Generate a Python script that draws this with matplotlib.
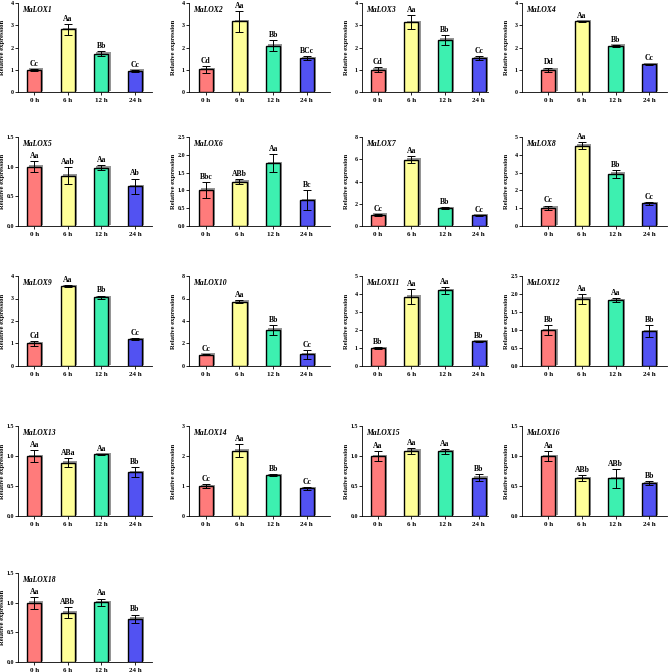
import matplotlib
matplotlib.use("Agg")
import matplotlib.pyplot as plt
import matplotlib.patheffects as pe

plt.rcParams['font.family'] = ['Liberation Serif', 'DejaVu Serif']
plt.rcParams['font.weight'] = 'bold'

times = ["0 h", "6 h", "12 h", "24 h"]
colors = ["#FF7B7B", "#FFFF99", "#3DF0B0", "#5252F2"]

genes = ["MaLOX1", "MaLOX2", "MaLOX3", "MaLOX4",
         "MaLOX5", "MaLOX6", "MaLOX7", "MaLOX8",
         "MaLOX9", "MaLOX10", "MaLOX11", "MaLOX12",
         "MaLOX13", "MaLOX14", "MaLOX15", "MaLOX16",
         "MaLOX18"]

means = [
    [1.00, 2.82, 1.73, 0.95],
    [1.02, 3.18, 2.08, 1.52],
    [1.00, 3.15, 2.35, 1.52],
    [1.00, 3.17, 2.08, 1.25],
    [1.00, 0.85, 0.98, 0.67],
    [1.02, 1.24, 1.76, 0.73],
    [1.00, 5.97, 1.62, 0.97],
    [1.02, 4.52, 2.93, 1.27],
    [1.00, 3.55, 3.05, 1.20],
    [1.00, 5.72, 3.22, 1.05],
    [1.00, 3.85, 4.20, 1.38],
    [1.00, 1.87, 1.83, 0.97],
    [1.00, 0.89, 1.03, 0.73],
    [1.00, 2.18, 1.37, 0.92],
    [1.00, 1.09, 1.08, 0.64],
    [1.00, 0.63, 0.63, 0.55],
    [1.00, 0.83, 1.01, 0.73],
]

errors = [
    [0.05, 0.25, 0.12, 0.05],
    [0.15, 0.47, 0.25, 0.10],
    [0.12, 0.30, 0.22, 0.10],
    [0.10, 0.04, 0.05, 0.03],
    [0.09, 0.14, 0.04, 0.13],
    [0.22, 0.07, 0.25, 0.27],
    [0.10, 0.30, 0.08, 0.05],
    [0.13, 0.18, 0.22, 0.10],
    [0.10, 0.05, 0.08, 0.04],
    [0.05, 0.15, 0.45, 0.40],
    [0.05, 0.42, 0.18, 0.03],
    [0.13, 0.14, 0.06, 0.17],
    [0.10, 0.07, 0.005, 0.08],
    [0.07, 0.22, 0.03, 0.06],
    [0.08, 0.05, 0.04, 0.06],
    [0.09, 0.05, 0.16, 0.04],
    [0.10, 0.09, 0.06, 0.07],
]

letters = [
    ["Cc", "Aa", "Bb", "Cc"],
    ["Cd", "Aa", "Bb", "BCc"],
    ["Cd", "Aa", "Bb", "Cc"],
    ["Dd", "Aa", "Bb", "Cc"],
    ["Aa", "Aab", "Aa", "Ab"],
    ["Bbc", "ABb", "Aa", "Bc"],
    ["Cc", "Aa", "Bb", "Cc"],
    ["Cc", "Aa", "Bb", "Cc"],
    ["Cd", "Aa", "Bb", "Cc"],
    ["Cc", "Aa", "Bb", "Cc"],
    ["Bb", "Aa", "Aa", "Bb"],
    ["Bb", "Aa", "Aa", "Bb"],
    ["Aa", "ABa", "Aa", "Bb"],
    ["Cc", "Aa", "Bb", "Cc"],
    ["Aa", "Aa", "Aa", "Bb"],
    ["Aa", "ABb", "ABb", "Bb"],
    ["Aa", "ABb", "Aa", "Bb"],
]

ymax = [4, 4, 4, 4, 1.5, 2.5, 8, 5, 4, 8, 5, 2.5, 1.5, 3, 1.5, 1.5, 1.5]
ystep = [1, 1, 1, 1, 0.5, 0.5, 2, 1, 1, 2, 1, 0.5, 0.5, 1, 0.5, 0.5, 0.5]

# layout in pixels (figure 669 x 672)
W, H = 669, 672
rows = [(3, 92), (137, 226), (276, 366), (426, 516), (573, 662)]
cols = [(18, 152, -0.48, 3.51), (189, 330, -0.50, 3.69),
        (362, 488, -0.47, 3.28), (522, 667, -0.78, 3.53)]

fig = plt.figure(figsize=(W / 100, H / 100), dpi=100)

shadow = [pe.SimplePatchShadow(offset=(1.6, 1.0), shadow_rgbFace="#8a8a8a", alpha=0.9), pe.Normal()]

for i, g in enumerate(genes):
    r, c = divmod(i, 4)
    top, bot = rows[r]
    left, right, x0, x1 = cols[c]
    ax = fig.add_axes([left / W, 1 - bot / H, (right - left) / W, (bot - top) / H])
    xs = range(4)
    bars = ax.bar(xs, means[i], width=0.42, color=colors, edgecolor="black", linewidth=1.0, zorder=2)
    for b in bars:
        b.set_path_effects(shadow)
    ax.errorbar(xs, means[i], yerr=errors[i], fmt="none", ecolor="black",
                elinewidth=0.7, capsize=3, capthick=0.7, zorder=3)
    for x, m, e, t in zip(xs, means[i], errors[i], letters[i]):
        ax.text(x, m + e + ymax[i] * 0.012, t, ha="center", va="bottom", fontsize=5.5, fontweight="bold")
    ax.set_xlim(x0, x1)
    ax.set_ylim(0, ymax[i])
    n = int(round(ymax[i] / ystep[i]))
    ticks = [k * ystep[i] for k in range(n + 1)]
    ax.set_yticks(ticks)
    if ystep[i] < 1:
        ax.set_yticklabels(["%.1f" % t for t in ticks])
    else:
        ax.set_yticklabels(["%d" % t for t in ticks])
    ax.set_xticks(list(xs))
    ax.set_xticklabels(times)
    ax.tick_params(axis="y", labelsize=4.3, length=2, width=0.6, pad=1)
    ax.tick_params(axis="x", labelsize=5, length=2, width=0.6, pad=2)
    for s in ["top", "right"]:
        ax.spines[s].set_visible(False)
    for s in ["left", "bottom"]:
        ax.spines[s].set_linewidth(0.6)
    ax.set_ylabel("Relative expression", fontsize=4.8, fontweight="bold")
    ax.yaxis.set_label_coords(-13.0 / (right - left), 0.5)
    ax.text(0.03, 0.97, g, transform=ax.transAxes, ha="left", va="top",
            fontsize=5.5, fontweight="bold", fontstyle="italic")

fig.savefig("out.png", dpi=100)
